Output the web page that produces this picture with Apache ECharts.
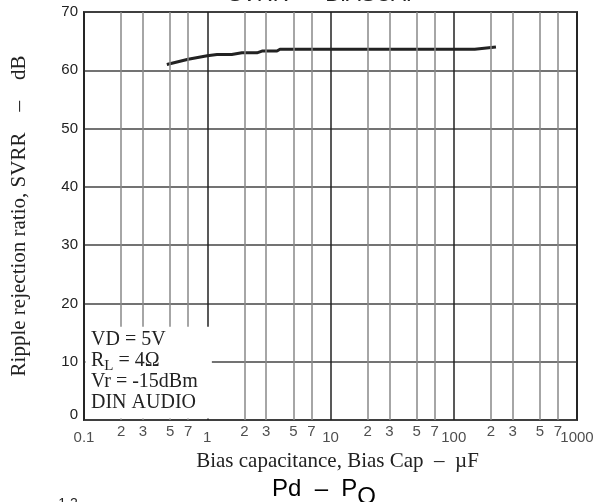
<!DOCTYPE html>
<html><head><meta charset="utf-8">
<script src="https://cdn.jsdelivr.net/npm/echarts@6/dist/echarts.min.js"></script>
<style>html,body{margin:0;padding:0;background:#fff}#c{width:602px;height:502px}</style>
</head><body><div id="c"></div>
<script>
// Curve: bias capacitance (uF) vs SVRR (dB)
const capX = [0.47, 0.70, 1.0, 1.20, 1.58, 1.91, 2.53, 2.78, 3.68, 3.89, 148, 220];
const svrr = [61.0, 61.9, 62.5, 62.7, 62.7, 63.0, 63.0, 63.3, 63.3, 63.6, 63.6, 64.0];
// Axis ticks
const minorTicks = [0.2, 0.3, 0.5, 0.7, 2, 3, 5, 7, 20, 30, 50, 70, 200, 300, 500, 700];
const minorLabels = ['2','3','5','7','2','3','5','7','2','3','5','7','2','3','5','7'];
const decadeTicks = [0.1, 1, 10, 100, 1000];
const decadeLabels = ['0.1', '1', '10', '100', '1000'];
const yMin = 0, yMax = 70, yStep = 10;
// Conditions box
const boxCorner = [1.09, 16];
const conditions = ['VD = 5V', '{n|R}{s|L}{n| = 4\u03A9}', 'Vr = -15dBm', 'DIN AUDIO'];

const SANS = "'Liberation Sans', Arial, sans-serif";
const SERIF = "'Liberation Serif', 'Times New Roman', serif";

const chart = echarts.init(document.getElementById('c'), null, {renderer: 'canvas'});
const option = {
  animation: false,
  backgroundColor: '#fff',
  grid: {left: 84, right: 25, top: 12, bottom: 82, show: true, borderColor: '#333', borderWidth: 2,
         containLabel: false, outerBoundsMode: 'none'},
  xAxis: {
    type: 'log', logBase: 10, min: 0.1, max: 1000,
    axisLine: {show: false}, axisTick: {show: false}, axisLabel: {show: false},
    splitLine: {show: true, lineStyle: {color: '#222', width: 1.5}},
    minorTick: {show: false}, minorSplitLine: {show: false}
  },
  yAxis: {
    type: 'value', min: yMin, max: yMax, interval: yStep,
    axisLine: {show: false}, axisTick: {show: false},
    axisLabel: {
      color: '#222', fontFamily: SANS, fontSize: 15, margin: 6,
      formatter: v => v === 0 ? '{z|0}' : String(v),
      rich: {z: {fontFamily: SANS, fontSize: 15, color: '#222', padding: [0, 0, 10, 0]}}
    },
    splitLine: {show: true, lineStyle: {color: '#444', width: 1.5}},
    name: 'Ripple rejection ratio, SVRR    \u2013    dB',
    nameLocation: 'middle', nameRotate: 90, nameGap: 54,
    nameTextStyle: {fontFamily: SERIF, fontSize: 21, color: '#222'}
  },
  series: [
    {
      type: 'line', z: 0, data: [], silent: true,
      markLine: {
        silent: true, symbol: ['none', 'none'], animation: false,
        label: {show: false},
        lineStyle: {color: '#888', width: 1.5, type: 'solid'},
        data: minorTicks.map(v => ({xAxis: v}))
      }
    },
    {
      type: 'line', z: 3, data: capX.map((x, i) => [x, svrr[i]]),
      showSymbol: false, symbol: 'none',
      lineStyle: {color: '#222', width: 3}
    },
    {
      type: 'scatter', symbolSize: 0, silent: true, z: 4,
      data: minorTicks.map((v, i) => ({value: [v, 0], label: {formatter: minorLabels[i]}})),
      label: {show: true, position: 'bottom', distance: 4, color: '#222', fontFamily: SANS, fontSize: 15}
    },
    {
      type: 'scatter', symbolSize: 0, silent: true, z: 4,
      data: decadeTicks.map((v, i) => ({value: [v, 0], label: {formatter: decadeLabels[i]}})),
      label: {show: true, position: 'bottom', distance: 10, color: '#222', fontFamily: SANS, fontSize: 15}
    }
  ]
};
chart.setOption(option);

const p0 = chart.convertToPixel({gridIndex: 0}, [decadeTicks[0], yMin]);
const p1 = chart.convertToPixel({gridIndex: 0}, boxCorner);
const pR = chart.convertToPixel({gridIndex: 0}, [decadeTicks[4], yMin]);
chart.setOption({
  graphic: [
    {type: 'rect', z: 10, silent: true,
     shape: {x: p0[0] + 1.5, y: p1[1], width: p1[0] - p0[0] - 1.5, height: p0[1] - p1[1] - 1.5},
     style: {fill: '#fff'}},
    {type: 'text', z: 11, silent: true, left: p0[0] + 7, top: p1[1] + 3,
     style: {
       text: conditions.join('\n'),
       font: '20px ' + SERIF, fill: '#222', lineHeight: 21,
       rich: {
         n: {fontFamily: SERIF, fontSize: 20, color: '#222', lineHeight: 21},
         s: {fontFamily: SERIF, fontSize: 15, color: '#222', padding: [10, 0, 0, 0], lineHeight: 21}
       }
     }},
    {type: 'text', z: 11, silent: true, x: (p0[0] + pR[0]) / 2 + 7, y: 461,
     style: {text: 'Bias capacitance, Bias Cap  \u2013  \u00B5F', font: '21px ' + SERIF, fill: '#222',
             textAlign: 'center', textVerticalAlign: 'middle'}},
    {type: 'text', z: 11, silent: true, x: 324, y: -5,
     style: {text: 'SVRR  \u2013  BIASCAP', font: '22px ' + SANS, fill: '#222',
             textAlign: 'center', textVerticalAlign: 'middle'}},
    {type: 'text', z: 11, silent: true, x: 324, y: 489,
     style: {text: '{a|Pd  \u2013  P}{b|O}', textAlign: 'center', textVerticalAlign: 'middle',
             rich: {a: {fontFamily: SANS, fontSize: 24, color: '#222'},
                    b: {fontFamily: SANS, fontSize: 24, color: '#222', padding: [16, 0, 0, 0]}}}},
    {type: 'text', z: 11, silent: true, x: 68, y: 497,
     style: {text: '1.2', font: '14px ' + SANS, fill: '#222', textAlign: 'center', textVerticalAlign: 'top'}}
  ]
});
</script></body></html>
